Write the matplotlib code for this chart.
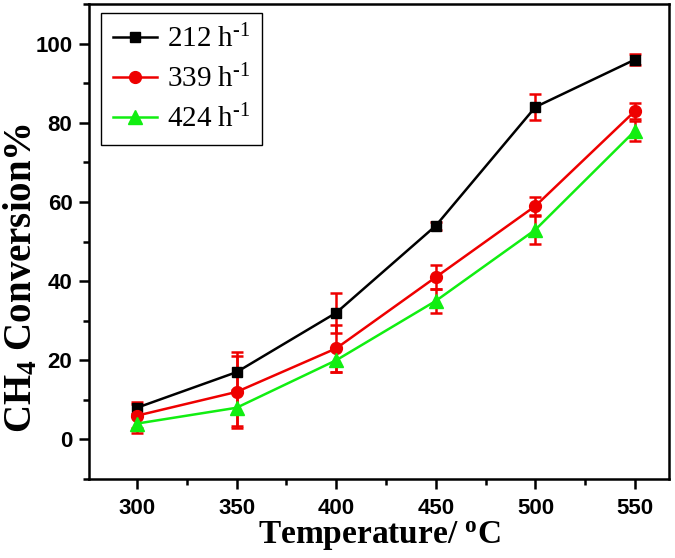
import matplotlib
matplotlib.use("Agg")
import matplotlib.pyplot as plt
from matplotlib.ticker import MultipleLocator
from matplotlib.lines import Line2D

plt.rcParams['mathtext.fontset'] = 'custom'
plt.rcParams['mathtext.rm'] = 'Liberation Serif'
plt.rcParams['mathtext.bf'] = 'Liberation Serif:bold'
plt.rcParams['mathtext.default'] = 'regular'

temperature = [300, 350, 400, 450, 500, 550]
labels = ["212 h$^{\\text{-1}}$", "339 h$^{\\text{-1}}$", "424 h$^{\\text{-1}}$"]
conv_212 = [8, 17, 32, 54, 84, 96]
err_212 = [1.5, 5, 5, 1, 3.3, 1.5]
conv_339 = [6, 12, 23, 41, 59, 83]
err_339 = [3, 9, 6, 3, 2.2, 2]
conv_424 = [4, 8, 20, 35, 53, 78]
err_424 = [2.5, 4.5, 3, 3, 3.5, 2.5]

fig = plt.figure(figsize=(6.75, 5.58), dpi=100)
ax = fig.add_axes([0.132, 0.1416, 0.859, 0.851])

series = [
    (conv_212, err_212, 'black', 's', 7.5),
    (conv_339, err_339, '#ee0000', 'o', 8.5),
    (conv_424, err_424, '#11ee11', '^', 9.5),
]
handles = []
for (vals, errs, col, mk, ms), lab in zip(series, labels):
    ax.errorbar(temperature, vals, yerr=errs, color=col, marker=mk, markersize=ms,
                linewidth=1.8, ecolor='#ee0000', elinewidth=1.8, capsize=4,
                capthick=1.8, zorder=3)
    handles.append(Line2D([], [], color=col, marker=mk, markersize=ms,
                          linewidth=1.8, label=lab))

ax.set_xlim(276, 567)
ax.set_ylim(-10, 110)
ax.xaxis.set_major_locator(MultipleLocator(50))
ax.xaxis.set_minor_locator(MultipleLocator(25))
ax.yaxis.set_major_locator(MultipleLocator(20))
ax.yaxis.set_minor_locator(MultipleLocator(10))
ax.tick_params(which='major', direction='out', length=7, width=1.8)
ax.tick_params(which='minor', direction='out', length=4.5, width=1.8)
ax.tick_params(axis='both', labelsize=16)
ax.tick_params(axis='x', pad=7)
ax.tick_params(axis='y', pad=5)
for t in ax.get_xticklabels() + ax.get_yticklabels():
    t.set_fontfamily('Liberation Sans')
    t.set_fontweight('bold')
for s in ax.spines.values():
    s.set_linewidth(1.8)

ax.set_xlabel("Temperature/ $^{o}$C", fontsize=24, fontweight='bold',
              family='Liberation Serif', labelpad=0)
ax.set_ylabel("CH$_{\\mathbf{4}}$ Conversion%", fontsize=28, fontweight='bold',
              family='Liberation Serif')
ax.yaxis.set_label_coords(-0.085, 0.424)

leg = ax.legend(handles=handles, loc='upper left',
                bbox_to_anchor=(12 / 580, (479 - 13) / 475),
                prop={'family': 'Liberation Serif', 'size': 21},
                frameon=True, fancybox=False, edgecolor='black', framealpha=1,
                handlelength=1.5, borderaxespad=0, borderpad=0.4,
                labelspacing=0.4, handletextpad=0.35)
leg.get_frame().set_linewidth(1.0)

fig.savefig("out.png", dpi=100)
